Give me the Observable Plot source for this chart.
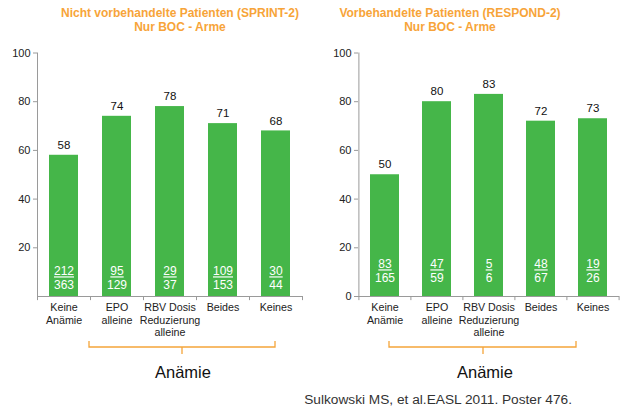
<!DOCTYPE html>
<html><head><meta charset="utf-8">
<script src="https://cdn.jsdelivr.net/npm/d3@7"></script>
<script src="https://cdn.jsdelivr.net/npm/@observablehq/plot@0.6"></script>
<style>
body{margin:0;background:#fff;font-family:"Liberation Sans",Arial,sans-serif;}
#wrap{position:relative;width:620px;height:412px;overflow:hidden;}
.title{position:absolute;text-align:center;color:#f7a439;font-weight:bold;font-size:12px;line-height:14px;white-space:nowrap;}
.pl{position:absolute;top:0;}
#ann{position:absolute;left:0;top:0;}
</style></head>
<body><div id="wrap">
<div class="title" id="t1" style="left:30px;width:300px;top:6px">Nicht vorbehandelte Patienten (SPRINT-2)<br>Nur BOC - Arme</div>
<div class="title" id="t2" style="left:300px;width:300px;top:6px">Vorbehandelte Patienten (RESPOND-2)<br>Nur BOC - Arme</div>
</div>
<script>
const categories = ["Keine\nAnämie","EPO\nalleine","RBV Dosis\nReduzierung\nalleine","Beides","Keines"];
const sprintPct = [58,74,78,71,68];
const sprintNum = [212,95,29,109,30];
const sprintDen = [363,129,37,153,44];
const respondPct = [50,80,83,72,73];
const respondNum = [83,47,5,48,19];
const respondDen = [165,59,6,67,26];
const yTicksSprint = [20,40,60,80,100];
const yTicksRespond = [0,20,40,60,80,100];
const groupLabel = "Anämie";
const citation = "Sulkowski MS, et al.EASL 2011. Poster 476.";

const green = "#45b649", axisCol = "#9a9a9a";

function chart({pct, num, den, ticks, width, mL, mR, numDy, denDy}) {
  const data = categories.map((c,i)=>({cat:c, pct:pct[i], num:String(num[i]), den:String(den[i])}));
  const step = (width - mL - mR) / 5;
  const p = Plot.plot({
    width, height: 340,
    marginTop: 52.5, marginBottom: 44, marginLeft: mL, marginRight: mR,
    style: {fontFamily: '"Liberation Sans", Arial, sans-serif', fontSize: "11px", color: "#222", background: "transparent", overflow: "visible"},
    x: {domain: categories, paddingInner: 0.45, paddingOuter: 0.225, label: null},
    y: {domain: [0,100], label: null},
    marks: [
      Plot.barY(data, {x: "cat", y: "pct", fill: green}),
      Plot.ruleY([0], {stroke: axisCol}),
      Plot.ruleX([categories[0]], {y1: 0, y2: 100, dx: -step/2, stroke: axisCol}),
      Plot.ruleX(categories, {y1: 0, y2: -1.7, dx: -step/2, stroke: axisCol}),
      Plot.ruleX([categories[4]], {y1: 0, y2: -1.7, dx: step/2, stroke: axisCol}),
      Plot.axisY({ticks, tickSize: 4, tickPadding: 3, stroke: axisCol, fill: "#222", fontSize: 11, label: null}),
      Plot.axisX({tickSize: 0, tickPadding: 6, lineHeight: 1.15, fontSize: 10.7, fill: "#222", label: null}),
      Plot.text(data, {x: "cat", y: "pct", text: d => String(d.pct), dy: -10, fontSize: 11.5, fill: "#111"}),
      Plot.text(data, {x: "cat", text: "den", frameAnchor: "bottom", lineAnchor: "middle", dy: denDy, fontSize: 12, fill: "#fff"}),
      Plot.text(data, {x: "cat", text: "num", frameAnchor: "bottom", lineAnchor: "middle", dy: numDy, fontSize: 12, fill: "#fff"})
    ]
  });
  const gs = p.querySelectorAll('g[aria-label="text"]');
  const last = gs[gs.length-1];
  last.querySelectorAll("text").forEach(t => t.style.textDecoration = "underline");
  return p;
}

const wrap = document.getElementById("wrap");
const c1 = chart({pct: sprintPct, num: sprintNum, den: sprintDen, ticks: yTicksSprint, width: 310, mL: 37, mR: 8, numDy: -25, denDy: -11.5});
c1.classList.add("pl"); c1.style.left = "0px";
wrap.appendChild(c1);
const c2 = chart({pct: respondPct, num: respondNum, den: respondDen, ticks: yTicksRespond, width: 310, mL: 48, mR: 1, numDy: -32, denDy: -18.5});
c2.classList.add("pl"); c2.style.left = "310px";
wrap.appendChild(c2);

// bracket annotations
const ann = d3.select(wrap).append("svg").attr("id","ann").attr("width",620).attr("height",412);
const orange = "#f5a53a";
[[89,275,182,183],[389,576,483,485]].forEach(([a,b,c,tx]) => {
  ann.append("path").attr("d",`M${a},341V347H${b}V341M${c},347V354`).attr("fill","none").attr("stroke",orange).attr("stroke-width",1.3);
  ann.append("text").attr("x",tx).attr("y",378).attr("text-anchor","middle").attr("font-size",16.5).attr("fill","#111").attr("font-family",'"Liberation Sans", Arial, sans-serif').text(groupLabel);
});
ann.append("text").attr("x",572).attr("y",404).attr("text-anchor","end").attr("font-size",13.7).attr("fill","#333").attr("font-family",'"Liberation Sans", Arial, sans-serif').text(citation);
</script>
</body></html>
